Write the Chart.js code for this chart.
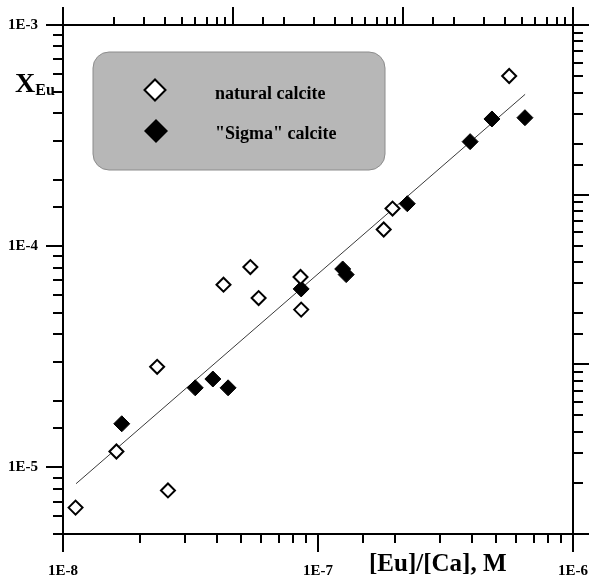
<!DOCTYPE html>
<html><head><meta charset="utf-8">
<script src="https://cdn.jsdelivr.net/npm/chart.js@4.4.0/dist/chart.umd.min.js"></script>
<style>html,body{margin:0;padding:0;background:#fff;overflow:hidden}canvas{display:block}</style>
</head><body>
<canvas id="c" width="589" height="586"></canvas>
<script>
const seriesNames = ['natural calcite', '"Sigma" calcite'];
const naturalX = [1.12e-8, 1.62e-8, 2.58e-8, 2.34e-8, 4.26e-8, 5.43e-8, 5.85e-8, 8.54e-8, 8.59e-8, 1.81e-7, 1.96e-7, 5.62e-7];
const naturalY = [6.58e-6, 1.18e-5, 7.87e-6, 2.85e-5, 6.70e-5, 8.05e-5, 5.83e-5, 7.26e-5, 5.17e-5, 1.19e-4, 1.48e-4, 5.88e-4];
const sigmaX = [1.70e-8, 3.30e-8, 3.87e-8, 4.44e-8, 8.59e-8, 1.25e-7, 1.29e-7, 2.24e-7, 3.95e-7, 4.81e-7, 6.48e-7];
const sigmaY = [1.575e-5, 2.29e-5, 2.51e-5, 2.29e-5, 6.41e-5, 7.89e-5, 7.44e-5, 1.556e-4, 2.97e-4, 3.76e-4, 3.81e-4];
const fitX = [1.125e-8, 6.49e-7];
const fitY = [8.44e-6, 4.86e-4];
const xTickValues = [1e-8, 1e-7, 1e-6];
const xTickLabels = ['1E-8', '1E-7', '1E-6'];
const yTickValues = [1e-5, 1e-4, 1e-3];
const yTickLabels = ['1E-5', '1E-4', '1E-3'];
const xTitle = '[Eu]/[Ca], M';
const yTitleMain = 'X';
const yTitleSub = 'Eu';

const SERIF = '"Liberation Serif", "Times New Roman", serif';
const toPts = (xs, ys) => xs.map((x, i) => ({x: x, y: ys[i]}));
const isDecade = v => Math.abs(Math.log10(v) - Math.round(Math.log10(v))) < 1e-6;
const labelFor = (vals, labs) => (value) => {
  const i = vals.findIndex(v => Math.abs(Math.log10(v) - Math.log10(value)) < 1e-6);
  return i >= 0 ? labs[i] : '';
};
const fixBox = (dim, size) => (s) => {
  s[dim] = size;
  s.paddingLeft = 0; s.paddingRight = 0; s.paddingTop = 0; s.paddingBottom = 0;
};

function diamond(ctx, x, y, r, fill, stroke, lw) {
  ctx.beginPath();
  ctx.moveTo(x - r, y); ctx.lineTo(x, y - r); ctx.lineTo(x + r, y); ctx.lineTo(x, y + r); ctx.closePath();
  ctx.fillStyle = fill; ctx.fill();
  if (lw) { ctx.lineWidth = lw; ctx.strokeStyle = stroke; ctx.lineJoin = 'miter'; ctx.stroke(); }
}

const decor = {
  id: 'decor',
  afterDraw(chart) {
    const ctx = chart.ctx;
    const a = chart.chartArea;
    ctx.save();
    ctx.strokeStyle = '#000';
    ctx.lineWidth = 2;
    ctx.lineCap = 'butt';
    const drawTicks = (scale, side, minorLen, majorLen) => {
      scale.ticks.forEach(t => {
        const p = Math.round(scale.getPixelForValue(t.value));
        const len = isDecade(t.value) ? majorLen : minorLen;
        ctx.beginPath();
        if (side === 'bottom') { ctx.moveTo(p, a.bottom); ctx.lineTo(p, a.bottom + len); }
        if (side === 'top') { ctx.moveTo(p, a.top); ctx.lineTo(p, a.top - len); }
        if (side === 'left') { ctx.moveTo(a.left, p); ctx.lineTo(a.left - len, p); }
        if (side === 'right') { ctx.moveTo(a.right, p); ctx.lineTo(a.right + len, p); }
        ctx.stroke();
      });
    };
    drawTicks(chart.scales.x, 'bottom', 9, 18);
    drawTicks(chart.scales.y, 'left', 10, 17);
    drawTicks(chart.scales.x2, 'top', 8, 18);
    drawTicks(chart.scales.y2, 'right', 10, 18);

    // legend box
    ctx.beginPath();
    ctx.roundRect(93, 52, 292, 118, 16);
    ctx.fillStyle = '#b7b7b7';
    ctx.fill();
    ctx.lineWidth = 1;
    ctx.strokeStyle = '#8c8c8c';
    ctx.stroke();
    diamond(ctx, 155, 90, 10.5, '#fff', '#000', 2);
    diamond(ctx, 156, 131, 12, '#000', '#000', 0);
    ctx.fillStyle = '#000';
    ctx.font = 'bold 18px ' + SERIF;
    ctx.textAlign = 'left';
    ctx.textBaseline = 'alphabetic';
    ctx.fillText(chart.data.datasets[0].label, 215, 99);
    ctx.fillText(chart.data.datasets[1].label, 215, 139);

    // axis titles
    ctx.font = 'bold 25px ' + SERIF;
    ctx.fillText(xTitle, 369, 571);
    ctx.font = 'bold 28px ' + SERIF;
    ctx.fillText(yTitleMain, 15, 92);
    const w = ctx.measureText(yTitleMain).width;
    ctx.font = 'bold 16px ' + SERIF;
    ctx.fillText(yTitleSub, 15 + w, 95);
    ctx.restore();
  }
};

new Chart(document.getElementById('c'), {
  data: {
    datasets: [
      { type: 'scatter', label: seriesNames[0], data: toPts(naturalX, naturalY), pointStyle: 'rectRot',
        pointRadius: 7, backgroundColor: '#fff', borderColor: '#000', borderWidth: 2 },
      { type: 'scatter', label: seriesNames[1], data: toPts(sigmaX, sigmaY), pointStyle: 'rectRot',
        pointRadius: 8, backgroundColor: '#000', borderColor: '#000', borderWidth: 1 },
      { type: 'line', label: 'fit', data: toPts(fitX, fitY), borderColor: '#3a3a3a', borderWidth: 1,
        pointRadius: 0, fill: false }
    ]
  },
  options: {
    responsive: false,
    devicePixelRatio: 1,
    animation: false,
    events: [],
    layout: { padding: 0 },
    plugins: { legend: { display: false }, tooltip: { enabled: false } },
    scales: {
      x: { type: 'logarithmic', position: 'bottom', min: 1e-8, max: 1e-6,
        afterFit: fixBox('height', 52),
        grid: { display: false, drawTicks: false },
        border: { display: true, color: '#000', width: 2 },
        ticks: { autoSkip: false, maxRotation: 0, padding: 28, color: '#000',
          font: { family: SERIF, weight: 'bold', size: 15 }, callback: labelFor(xTickValues, xTickLabels) } },
      y: { type: 'logarithmic', position: 'left', min: 5e-6, max: 1e-3,
        afterFit: fixBox('width', 63),
        grid: { display: false, drawTicks: false },
        border: { display: true, color: '#000', width: 2 },
        ticks: { autoSkip: false, padding: 25, color: '#000',
          font: { family: SERIF, weight: 'bold', size: 15 }, callback: labelFor(yTickValues, yTickLabels) } },
      x2: { type: 'logarithmic', position: 'top', min: 1, max: 1000,
        afterFit: fixBox('height', 25),
        grid: { display: false, drawTicks: false },
        border: { display: true, color: '#000', width: 2 },
        ticks: { display: true, autoSkip: false, callback: () => '', font: { size: 1 }, padding: 0 } },
      y2: { type: 'logarithmic', position: 'right', min: 1, max: 1000,
        afterFit: fixBox('width', 16),
        grid: { display: false, drawTicks: false },
        border: { display: true, color: '#000', width: 2 },
        ticks: { display: true, autoSkip: false, callback: () => '', font: { size: 1 }, padding: 0 } }
    }
  },
  plugins: [decor]
});
</script>
</body></html>
